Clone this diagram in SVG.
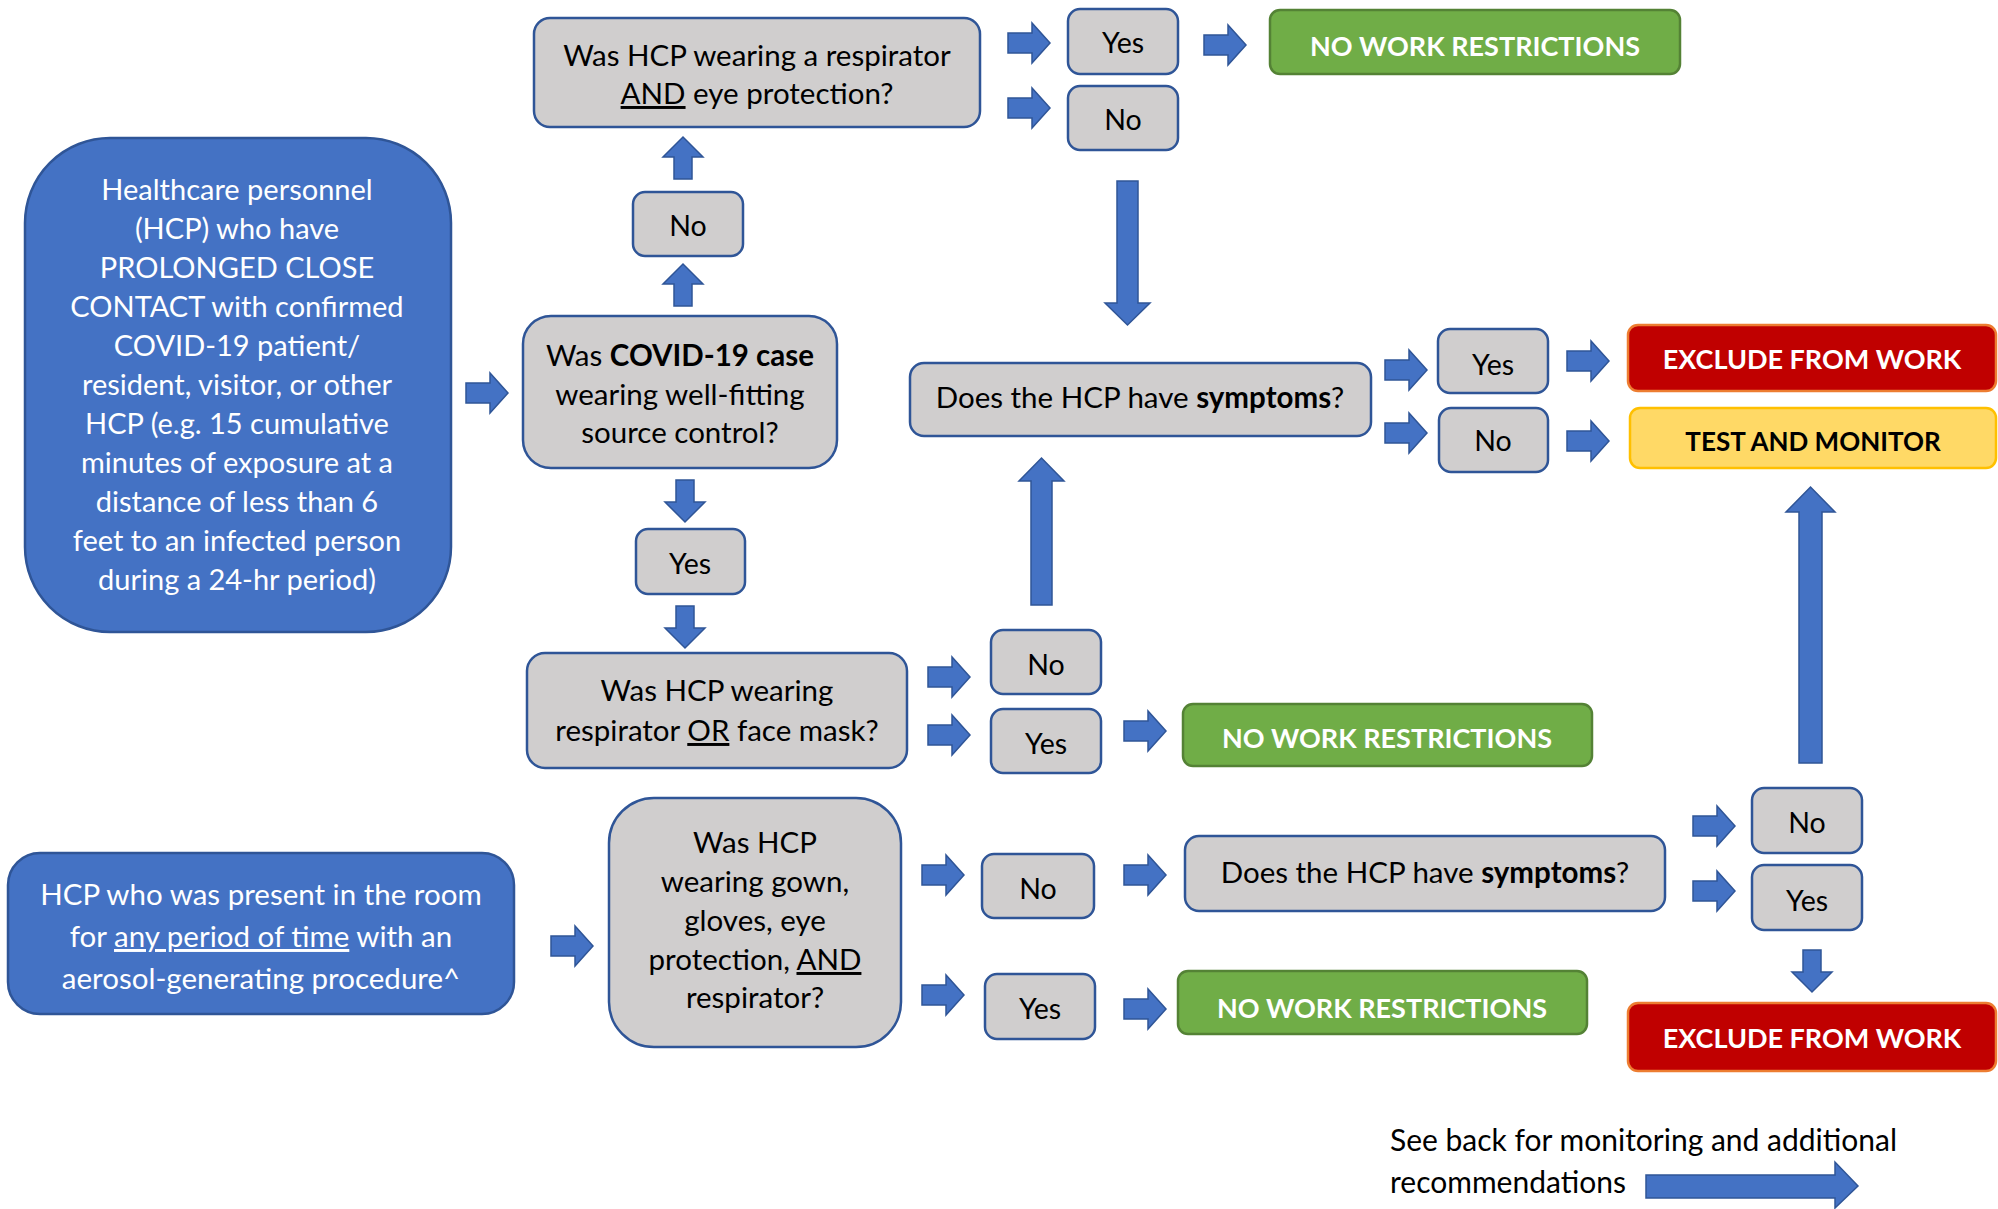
<svg xmlns="http://www.w3.org/2000/svg" xmlns:xlink="http://www.w3.org/1999/xlink" width="1998" height="1209" viewBox="0 0 1998 1209">
<style>
text{font-family:Lato,"Liberation Sans",sans-serif;font-size:29.5px;fill:#000;text-anchor:middle}
.w{fill:#fff}
.b{font-weight:bold}
.u{text-decoration:underline}
.yn{font-size:28.5px}
.q{fill:#D0CECE;stroke:#2F5597;stroke-width:2.5}
.blue{fill:#4472C4;stroke:#2F5597;stroke-width:2.5}
.green{fill:#70AD47;stroke:#548235;stroke-width:2.5}
.red{fill:#C00000;stroke:#ED7D31;stroke-width:2.5}
.yel{fill:#FFD966;stroke:#FFC000;stroke-width:2.5}
.arr{fill:#4472C4;stroke:#2F5597;stroke-width:1.5}
.out{font-weight:bold;font-size:27px}
</style>
<defs>
<path id="ra" d="M0,-10 H24 V-20 L42,0 L24,20 V10 H0 Z"/>
<path id="da" d="M-9,0 H9 V22 H20 L0,42 L-20,22 H-9 Z"/>
<path id="ua" d="M-9,42 H9 V20 H20 L0,0 L-20,20 H-9 Z"/>
</defs>

<g id="connectors">
<use xlink:href="#ra" class="arr" x="1008" y="43"/>
<use xlink:href="#ra" class="arr" x="1008" y="108"/>
<use xlink:href="#ra" class="arr" x="1204" y="45"/>
<path class="arr" d="M1117,181 H1138 V303 H1150 L1127.5,325 L1105,303 H1117 Z"/>
<use xlink:href="#ra" class="arr" x="1385" y="370"/>
<use xlink:href="#ra" class="arr" x="1385" y="433"/>
<use xlink:href="#ra" class="arr" x="1567" y="361"/>
<use xlink:href="#ra" class="arr" x="1567" y="441"/>
<path class="arr" d="M1799,763 H1822 V512 H1835 L1810.5,487 L1786,512 H1799 Z"/>
<path class="arr" d="M1031,605 H1052 V481 H1064 L1041.5,458 L1019,481 H1031 Z"/>
<use xlink:href="#ua" class="arr" x="683" y="264"/>
<use xlink:href="#ua" class="arr" x="683" y="137"/>
<use xlink:href="#ra" class="arr" x="466" y="393"/>
<use xlink:href="#da" class="arr" x="685" y="480"/>
<use xlink:href="#da" class="arr" x="685" y="606"/>
<use xlink:href="#ra" class="arr" x="928" y="677"/>
<use xlink:href="#ra" class="arr" x="928" y="735"/>
<use xlink:href="#ra" class="arr" x="1124" y="731"/>
<use xlink:href="#ra" class="arr" x="551" y="946"/>
<use xlink:href="#ra" class="arr" x="922" y="875"/>
<use xlink:href="#ra" class="arr" x="922" y="995"/>
<use xlink:href="#ra" class="arr" x="1124" y="875"/>
<use xlink:href="#ra" class="arr" x="1124" y="1009"/>
<use xlink:href="#ra" class="arr" x="1693" y="826"/>
<use xlink:href="#ra" class="arr" x="1693" y="891"/>
<use xlink:href="#da" class="arr" x="1812" y="950"/>
<path class="arr" d="M1646,1175 H1835 V1162 L1858,1186 L1835,1208 V1198 H1646 Z"/>
</g>

<g id="n-start1">
<rect class="blue" x="25" y="138" width="426" height="494" rx="85"/>
<text class="w" x="237" style="font-size:29px"><tspan x="237" y="200">Healthcare personnel</tspan><tspan x="237" y="239">(HCP) who have</tspan><tspan x="237" y="278">PROLONGED CLOSE</tspan><tspan x="237" y="317">CONTACT with confirmed</tspan><tspan x="237" y="356">COVID-19 patient/</tspan><tspan x="237" y="395">resident, visitor, or other</tspan><tspan x="237" y="434">HCP (e.g. 15 cumulative</tspan><tspan x="237" y="473">minutes of exposure at a</tspan><tspan x="237" y="512">distance of less than 6</tspan><tspan x="237" y="551">feet to an infected person</tspan><tspan x="237" y="590">during a 24-hr period)</tspan></text>
</g>

<g id="n-q-respeye">
<rect class="q" x="534" y="18" width="446" height="109" rx="16"/>
<text x="757" y="66">Was HCP wearing a respirator</text>
<text x="757" y="104"><tspan class="u">AND</tspan> eye protection?</text>
</g>

<g id="n-yes1"><rect class="q" x="1068" y="9" width="110" height="65" rx="12"/><text class="yn" x="1123" y="53">Yes</text></g>
<g id="n-no1"><rect class="q" x="1068" y="86" width="110" height="64" rx="12"/><text class="yn" x="1123" y="130">No</text></g>
<g id="n-nwr1"><rect class="green" x="1270" y="10" width="410" height="64" rx="10"/><text class="w out" x="1475" y="56">NO WORK RESTRICTIONS</text></g>

<g id="n-no-left"><rect class="q" x="633" y="192" width="110" height="64" rx="12"/><text class="yn" x="688" y="236">No</text></g>

<g id="n-q-covid">
<rect class="q" x="523" y="316" width="314" height="152" rx="28"/>
<text x="680" y="366">Was <tspan class="b">COVID-19 case</tspan></text>
<text x="680" y="405">wearing well-fitting</text>
<text x="680" y="443">source control?</text>
</g>

<g id="n-yes-left"><rect class="q" x="636" y="529" width="109" height="65" rx="12"/><text class="yn" x="690" y="574">Yes</text></g>

<g id="n-symp1">
<rect class="q" x="910" y="363" width="461" height="73" rx="14"/>
<text x="1140" y="408">Does the HCP have <tspan class="b">symptoms</tspan>?</text>
</g>
<g id="n-yes2"><rect class="q" x="1438" y="329" width="110" height="64" rx="12"/><text class="yn" x="1493" y="375">Yes</text></g>
<g id="n-no2"><rect class="q" x="1439" y="408" width="109" height="64" rx="12"/><text class="yn" x="1493" y="451">No</text></g>
<g id="n-excl1"><rect class="red" x="1628" y="325" width="368" height="66" rx="10"/><text class="w out" x="1812" y="369">EXCLUDE FROM WORK</text></g>
<g id="n-test"><rect class="yel" x="1630" y="408" width="366" height="60" rx="10"/><text class="out" x="1813" y="451" style="font-size:26px">TEST AND MONITOR</text></g>

<g id="n-q-mask">
<rect class="q" x="527" y="653" width="380" height="115" rx="18"/>
<text x="717" y="701">Was HCP wearing</text>
<text x="717" y="741">respirator <tspan class="u">OR</tspan> face mask?</text>
</g>
<g id="n-no3"><rect class="q" x="991" y="630" width="110" height="64" rx="12"/><text class="yn" x="1046" y="675">No</text></g>
<g id="n-yes3"><rect class="q" x="991" y="709" width="110" height="64" rx="12"/><text class="yn" x="1046" y="754">Yes</text></g>
<g id="n-nwr2"><rect class="green" x="1183" y="704" width="409" height="62" rx="10"/><text class="w out" x="1387" y="748">NO WORK RESTRICTIONS</text></g>

<g id="n-start2">
<rect class="blue" x="8" y="853" width="506" height="161" rx="32"/>
<text class="w" x="261" y="905">HCP who was present in the room</text>
<text class="w" x="261" y="947">for <tspan class="u">any period of time</tspan> with an</text>
<text class="w" x="261" y="989">aerosol-generating procedure^</text>
</g>

<g id="n-q-ppe">
<rect class="q" x="609" y="798" width="292" height="249" rx="45"/>
<text x="755" y="853">Was HCP</text>
<text x="755" y="892">wearing gown,</text>
<text x="755" y="931">gloves, eye</text>
<text x="755" y="970">protection, <tspan class="u">AND</tspan></text>
<text x="755" y="1008">respirator?</text>
</g>
<g id="n-no4"><rect class="q" x="982" y="854" width="112" height="64" rx="12"/><text class="yn" x="1038" y="899">No</text></g>
<g id="n-yes4"><rect class="q" x="985" y="974" width="110" height="65" rx="12"/><text class="yn" x="1040" y="1019">Yes</text></g>
<g id="n-symp2">
<rect class="q" x="1185" y="836" width="480" height="75" rx="14"/>
<text x="1425" y="883">Does the HCP have <tspan class="b">symptoms</tspan>?</text>
</g>
<g id="n-nwr3"><rect class="green" x="1178" y="971" width="409" height="63" rx="10"/><text class="w out" x="1382" y="1018">NO WORK RESTRICTIONS</text></g>
<g id="n-no5"><rect class="q" x="1752" y="788" width="110" height="65" rx="12"/><text class="yn" x="1807" y="833">No</text></g>
<g id="n-yes5"><rect class="q" x="1752" y="865" width="110" height="65" rx="12"/><text class="yn" x="1807" y="911">Yes</text></g>
<g id="n-excl2"><rect class="red" x="1628" y="1003" width="368" height="68" rx="10"/><text class="w out" x="1812" y="1048">EXCLUDE FROM WORK</text></g>

<g id="n-footnote">
<text x="1390" y="1151" style="text-anchor:start;font-size:30px">See back for monitoring and additional</text>
<text x="1390" y="1193" style="text-anchor:start;font-size:30px">recommendations</text>
</g>
</svg>
